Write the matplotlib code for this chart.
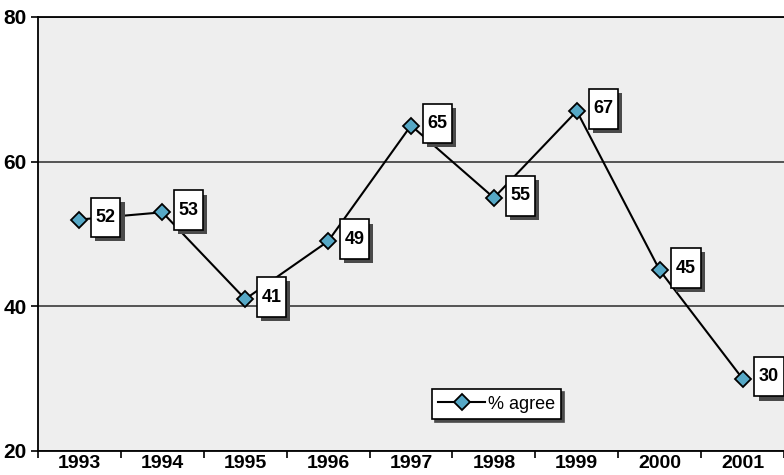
import matplotlib

matplotlib.use("Agg")
import matplotlib.pyplot as plt
from matplotlib.offsetbox import AnnotationBbox, DrawingArea
from matplotlib.patches import Rectangle
from matplotlib.text import Text

years = ["1993", "1994", "1995", "1996", "1997", "1998", "1999", "2000", "2001"]
agree = [52, 53, 41, 49, 65, 55, 67, 45, 30]
y_ticks = [20, 40, 60, 80]

plt.rcParams["font.family"] = ["Liberation Sans", "DejaVu Sans"]


def value_box(value: int) -> DrawingArea:
    # white label box with a dark drop shadow, sizes in points
    w, h, off = 21.0, 28.5, 3.0
    area = DrawingArea(w, h, 0, 0)
    area.add_artist(Rectangle((off, -off), w, h, facecolor="#4a4a4a", edgecolor="none"))
    area.add_artist(Rectangle((0, 0), w, h, facecolor="white", edgecolor="black", linewidth=1.2))
    area.add_artist(
        Text(w / 2, h / 2, str(value), ha="center", va="center",
             fontsize=13, fontweight="bold", color="black")
    )
    return area


def main() -> None:
    fig = plt.figure(figsize=(7.84, 4.75), dpi=100)
    fig.patch.set_facecolor("white")
    ax = fig.add_axes([38 / 784, 24 / 475, 746 / 784, 434 / 475])
    ax.set_facecolor("#eeeeee")

    x = list(range(len(years)))
    ax.plot(x, agree, color="black", linewidth=1.5, marker="D", markersize=8.5,
            markerfacecolor="#56a8c6", markeredgecolor="black", markeredgewidth=1.3,
            label="% agree", zorder=3)

    for xi, v in zip(x, agree):
        ab = AnnotationBbox(value_box(v), (xi, v), xybox=(19, 1.5), boxcoords="offset points",
                            frameon=False, pad=0, zorder=4)
        ax.add_artist(ab)

    ax.set_xlim(-0.5, len(years) - 0.5)
    ax.set_ylim(20, 80)
    ax.set_yticks(y_ticks)
    ax.set_yticklabels([str(t) for t in y_ticks], fontsize=15, fontweight="bold")
    ax.set_xticks(x)
    ax.set_xticklabels(years, fontsize=14, fontweight="bold")
    ax.set_xticks([i - 0.5 for i in range(len(years) + 1)], minor=True)
    ax.tick_params(axis="x", which="major", length=0, pad=3)
    ax.tick_params(axis="x", which="minor", length=5, width=1.2, direction="out")
    ax.tick_params(axis="y", length=5, width=1.2, direction="out", pad=3)

    ax.yaxis.grid(True, color="#2a2a2a", linewidth=1.1)
    ax.set_axisbelow(True)
    for side in ("left", "bottom", "top"):
        ax.spines[side].set_color("black")
        ax.spines[side].set_linewidth(1.3)
    ax.spines["right"].set_visible(False)

    leg = ax.legend(loc="center", bbox_to_anchor=(0.615, 0.108), fontsize=13,
                    fancybox=False, edgecolor="black", framealpha=1, handlelength=2.6,
                    handletextpad=0.15, borderpad=0.35, borderaxespad=0,
                    shadow={"color": "#4a4a4a", "alpha": 1})
    leg.get_frame().set_linewidth(1.2)

    fig.savefig("out.png", dpi=100)
    plt.close(fig)


if __name__ == "__main__":
    main()
